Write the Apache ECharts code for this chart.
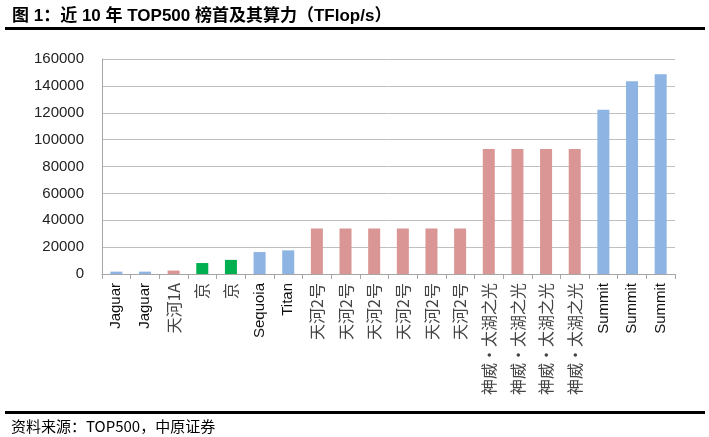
<!DOCTYPE html>
<html><head><meta charset="utf-8">
<script src="https://cdn.jsdelivr.net/npm/echarts@6/dist/echarts.min.js"></script>
<style>html,body{margin:0;padding:0;background:#fff;}#c{width:709px;height:437px;}</style>
</head><body><div id="c"></div>
<script>
const machines = ["Jaguar","Jaguar","天河1A","京","京","Sequoia","Titan","天河2号","天河2号","天河2号","天河2号","天河2号","天河2号","神威·太湖之光","神威·太湖之光","神威·太湖之光","神威·太湖之光","Summit","Summit","Summit"];
const rmax = [1759,1759,2566,8162,10510,16324,17590,33863,33863,33863,33863,33863,33863,93015,93015,93015,93015,122300,143500,148600];
const yTicks = [0,20000,40000,60000,80000,100000,120000,140000,160000];
const colorBlue = '#8DB4E2', colorPink = '#D99694', colorGreen = '#00B050';
const machineColors = {"Jaguar":colorBlue,"Sequoia":colorBlue,"Titan":colorBlue,"Summit":colorBlue,"天河1A":colorPink,"天河2号":colorPink,"神威·太湖之光":colorPink,"京":colorGreen};

const chart = echarts.init(document.getElementById('c'));
chart.setOption({
  animation:false,
  title:{text:'图 1：近 10 年 TOP500 榜首及其算力（TFlop/s）',left:7,top:3,
    textStyle:{fontSize:17,fontWeight:'bold',color:'#000',fontFamily:'Liberation Sans, "Noto Sans CJK SC"'}},
  graphic:[
    {type:'rect',shape:{x:5,y:27,width:700,height:3},style:{fill:'#000'}},
    {type:'rect',shape:{x:5,y:411,width:700,height:3},style:{fill:'#000'}},
    {type:'text',left:11,top:419,style:{text:'资料来源：TOP500，中原证券',fontSize:15,fill:'#000',fontFamily:'"Noto Sans CJK SC", Liberation Sans'}}
  ],
  grid:{left:102,right:34,top:59,bottom:163,containLabel:false},
  xAxis:{type:'category',data:machines,
    axisLine:{lineStyle:{color:'#a6a6a6',width:1}},
    axisTick:{show:true,length:5,lineStyle:{color:'#a6a6a6'}},
    axisLabel:{rotate:90,interval:0,margin:9,
      formatter:function(v){return /[\u4e00-\u9fff]/.test(v)?'{cn|'+v+'}':'{en|'+v+'}';},
      rich:{cn:{fontSize:16,color:'#444',fontFamily:'"Noto Sans CJK SC", Liberation Sans'},
            en:{fontSize:15,color:'#111',fontFamily:'Liberation Sans'}}}},
  yAxis:{type:'value',min:yTicks[0],max:yTicks[yTicks.length-1],interval:yTicks[1]-yTicks[0],
    axisLine:{show:true,lineStyle:{color:'#a6a6a6'}},
    axisTick:{show:false},
    splitLine:{lineStyle:{color:'#bfbfbf',width:1}},
    axisLabel:{margin:18,fontSize:15,color:'#222',fontFamily:'Liberation Sans',formatter:function(v){return String(v);}}},
  series:[{type:'bar',barWidth:12,
    data:rmax.map((v,i)=>({value:v,itemStyle:{color:machineColors[machines[i]]}}))}]
});
</script>
</body></html>
